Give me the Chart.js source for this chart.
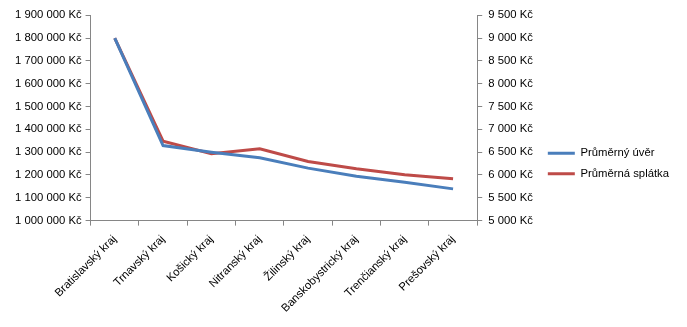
<!DOCTYPE html>
<html>
<head>
<meta charset="utf-8">
<title>Průměrný úvěr a splátka podle krajů</title>
<script src="https://cdn.jsdelivr.net/npm/chart.js"></script>
<style>
  body { margin: 0; background: #fff; }
  #wrap { position: relative; width: 687px; height: 327px; }
</style>
</head>
<body>
<div id="wrap"><canvas id="krajeChart"></canvas></div>
<script>
// kraje
const categories = ['Bratislavský kraj', 'Trnavský kraj', 'Košický kraj', 'Nitranský kraj',
                    'Žilinský kraj', 'Banskobystrický kraj', 'Trenčianský kraj', 'Prešovský kraj'];
// levá osa - průměrný úvěr
const prumernyUver = [1800000, 1329000, 1300000, 1275000, 1230000, 1194000, 1168000, 1139000];
// pravá osa - průměrná splátka
const prumernaSplatka = [9000, 6741, 6464, 6574, 6295, 6134, 6003, 5915];

const leftTicks = { min: 1000000, max: 1900000, step: 100000 };
const rightTicks = { min: 5000, max: 9500, step: 500 };

const axisGrey = '#868686';
const fontFamily = '"Liberation Sans", Arial, sans-serif';
const fontSize = 11.3;

function kc(v) {
    return String(v).replace(/\B(?=(\d{3})+(?!\d))/g, ' ') + ' Kč';
}

var ctx = document.getElementById('krajeChart').getContext('2d');
var myChart = new Chart(ctx, {
    type: 'line',
    data: {
        labels: categories,
        datasets: [
            { label: 'Průměrný úvěr', data: prumernyUver, yAxisID: 'y',
              borderColor: '#4A7EBB', backgroundColor: '#4A7EBB', borderWidth: 3,
              pointRadius: 0, tension: 0 },
            { label: 'Průměrná splátka', data: prumernaSplatka, yAxisID: 'y1',
              borderColor: '#BE4B48', backgroundColor: '#BE4B48', borderWidth: 3,
              pointRadius: 0, tension: 0 }
        ]
    },
    options: {
        responsive: true,
        maintainAspectRatio: false,
        animation: false,
        layout: { padding: { top: 5, left: 11, right: 8, bottom: 5 } },
        plugins: {
            tooltip: { enabled: false },
            // empty title only over the plot, so the legend stays centred on the canvas
            title: { display: true, text: '', fullSize: false, font: { size: 1 }, padding: { top: 0, bottom: 9 } },
            legend: {
                position: 'right',
                maxWidth: 200,
                labels: {
                    usePointStyle: true, pointStyle: 'line', pointStyleWidth: 27,
                    color: '#000', padding: 9,
                    font: { family: fontFamily, size: fontSize }
                }
            }
        },
        scales: {
            x: {
                offset: true,
                border: { color: axisGrey, width: 1 },
                grid: { offset: true, drawOnChartArea: false, drawTicks: true, tickLength: 5, color: axisGrey },
                ticks: { color: '#000', minRotation: 45, maxRotation: 45, autoSkip: false, padding: 7,
                         font: { family: fontFamily, size: fontSize } }
            },
            y: {
                position: 'left',
                min: leftTicks.min, max: leftTicks.max,
                border: { color: axisGrey, width: 1 },
                grid: { drawOnChartArea: false, drawTicks: true, tickLength: 5, color: axisGrey },
                ticks: { stepSize: leftTicks.step, color: '#000', padding: 4,
                         font: { family: fontFamily, size: fontSize }, callback: kc }
            },
            y1: {
                position: 'right',
                min: rightTicks.min, max: rightTicks.max,
                border: { color: axisGrey, width: 1 },
                grid: { drawOnChartArea: false, drawTicks: true, tickLength: 5, color: axisGrey },
                ticks: { stepSize: rightTicks.step, color: '#000', padding: 6,
                         font: { family: fontFamily, size: fontSize }, callback: kc }
            }
        }
    }
});
</script>
</body>
</html>
